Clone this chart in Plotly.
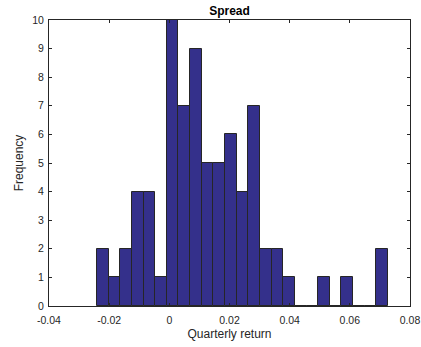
import plotly.graph_objects as go

# Histogram of quarterly spread returns
bin_start = -0.02405
bin_width = 0.00387
counts = [2, 1, 2, 4, 4, 1, 10, 7, 9, 5, 5, 6, 4, 7, 2, 2, 1, 0, 0, 1, 0, 1, 0, 0, 2]
x_ticks = [-0.04, -0.02, 0, 0.02, 0.04, 0.06, 0.08]
x_tick_labels = ["-0.04", "-0.02", "0", "0.02", "0.04", "0.06", "0.08"]
y_ticks = list(range(0, 11))

centers = [bin_start + bin_width * (i + 0.5) for i in range(len(counts))]

FONT = "Liberation Sans, Arial, sans-serif"

fig = go.Figure(
    go.Bar(
        x=centers,
        y=counts,
        width=[bin_width] * len(counts),
        marker=dict(color="#34308b", line=dict(color="#262626", width=1)),
    )
)

axis_common = dict(
    showline=True,
    linecolor="#262626",
    linewidth=1,
    mirror="ticks",
    ticks="inside",
    ticklen=3,
    tickcolor="#262626",
    showgrid=False,
    zeroline=False,
    automargin=False,
    tickfont=dict(family=FONT, size=10.5, color="#262626"),
)

fig.update_layout(
    width=421,
    height=347,
    autosize=False,
    margin=dict(l=49, r=11, t=20, b=41, autoexpand=False),
    paper_bgcolor="white",
    plot_bgcolor="white",
    showlegend=False,
    bargap=0,
    title=dict(
        text="<b>Spread</b>",
        x=0.5,
        xref="paper",
        xanchor="center",
        y=1,
        yref="paper",
        yanchor="bottom",
        pad=dict(b=5),
        font=dict(family=FONT, size=12, color="black"),
    ),
    xaxis=dict(
        range=[-0.04, 0.08],
        tickvals=x_ticks,
        ticktext=x_tick_labels,
        ticklabelstandoff=4,
        title=dict(text="Quarterly return", standoff=5,
                   font=dict(family=FONT, size=12, color="#262626")),
        **axis_common,
    ),
    yaxis=dict(
        range=[0, 10],
        tickvals=y_ticks,
        ticklabelstandoff=2,
        title=dict(text="Frequency", standoff=6,
                   font=dict(family=FONT, size=12, color="#262626")),
        **axis_common,
    ),
)

fig.write_html("out.html", config={"responsive": False})
